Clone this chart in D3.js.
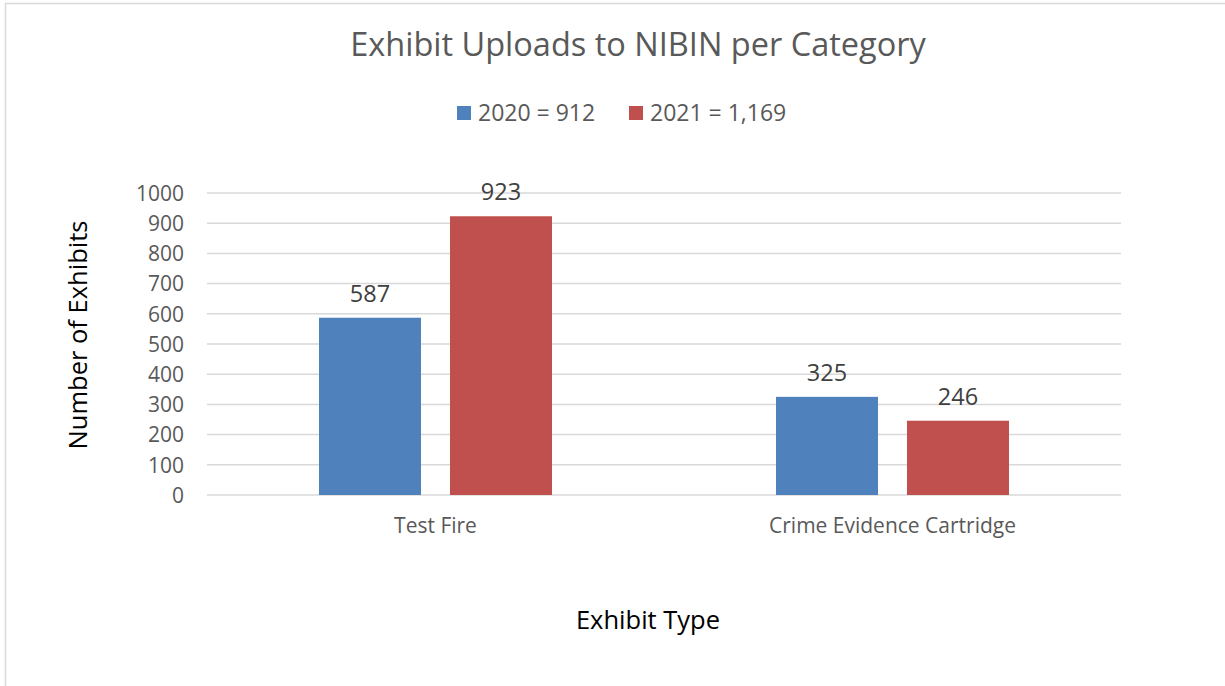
<!DOCTYPE html>
<html><head><meta charset="utf-8">
<script src="https://cdn.jsdelivr.net/npm/d3@7"></script>
<style>body{margin:0;background:#fff;}svg{display:block;font-family:"Open Sans",sans-serif;}</style>
</head><body>
<svg id="c" width="1225" height="686"></svg>
<script>
const categories = ["Test Fire", "Crime Evidence Cartridge"];
const seriesNames = ["2020 = 912", "2021 = 1,169"];
const values2020 = [587, 325];
const values2021 = [923, 246];
const yTicks = [0,100,200,300,400,500,600,700,800,900,1000];
const colors = ["#4f81bd", "#c0504d"];

const svg = d3.select("#c");
svg.append("rect").attr("x",5.5).attr("y",3.5).attr("width",1240).attr("height",700)
  .attr("fill","#fff").attr("stroke","#d9d9d9").attr("stroke-width",1.5);

const plot = {left:207, right:1121, top:193, bottom:495};
const x0 = d3.scaleBand().domain(categories).range([plot.left, plot.right]).paddingInner(0).paddingOuter(0);
const y = d3.scaleLinear().domain([0,1000]).range([plot.bottom, plot.top]);

svg.append("g").selectAll("line").data(yTicks).join("line")
  .attr("x1",plot.left).attr("x2",plot.right)
  .attr("y1",d=>y(d)).attr("y2",d=>y(d))
  .attr("stroke","#d9d9d9").attr("stroke-width",1.5);

const yAxis = d3.axisLeft(y).tickValues(yTicks).tickFormat(d3.format("d")).tickSize(0).tickPadding(0);
const ga = svg.append("g").attr("transform",`translate(${plot.left-23},0)`).call(yAxis);
ga.select(".domain").remove();
ga.selectAll("text").attr("font-size",21).attr("fill","#595959").attr("font-family","Open Sans, sans-serif").attr("dy","0.35em");

const barW = 102, gap = 29;
const data = categories.map((c,i)=>({cat:c, vals:[values2020[i], values2021[i]]}));
const x1 = d3.scaleBand().domain([0,1]).range([0, barW*2+gap]).paddingInner(gap/(barW+gap)).paddingOuter(0);
const groups = svg.append("g").selectAll("g").data(data).join("g")
  .attr("transform",d=>`translate(${x0(d.cat)+x0.bandwidth()/2-(barW*2+gap)/2},0)`);
groups.selectAll("rect").data(d=>d.vals.map((v,k)=>({v,k}))).join("rect")
  .attr("x",d=>x1(d.k)).attr("width",x1.bandwidth())
  .attr("y",d=>y(d.v)).attr("height",d=>y(0)-y(d.v))
  .attr("fill",d=>colors[d.k]);
groups.selectAll("text").data(d=>d.vals.map((v,k)=>({v,k}))).join("text")
  .attr("x",d=>x1(d.k)+x1.bandwidth()/2).attr("y",d=>y(d.v)-16)
  .attr("text-anchor","middle").attr("font-size",23.5).attr("fill","#404040")
  .text(d=>d3.format("d")(d.v));

const xAxis = d3.axisBottom(x0).tickSize(0).tickPadding(0);
const gx = svg.append("g").attr("transform",`translate(0,${plot.bottom+23})`).call(xAxis);
gx.select(".domain").remove();
gx.selectAll("text").attr("font-size",21).attr("fill","#595959").attr("font-family","Open Sans, sans-serif").attr("dy","0.71em");

svg.append("text").attr("x",638).attr("y",56).attr("text-anchor","middle")
  .attr("font-size",32.5).attr("fill","#595959").text("Exhibit Uploads to NIBIN per Category");

const legX = [457, 629];
seriesNames.forEach((s,i)=>{
  svg.append("rect").attr("x",legX[i]).attr("y",106).attr("width",14).attr("height",14).attr("fill",colors[i]);
  svg.append("text").attr("x",legX[i]+21).attr("y",121).attr("font-size",23).attr("fill","#595959").text(s);
});

svg.append("text").attr("transform","translate(87,335) rotate(-90)").attr("text-anchor","middle")
  .attr("font-size",25.5).attr("fill","#000").text("Number of Exhibits");
svg.append("text").attr("x",648).attr("y",629).attr("text-anchor","middle")
  .attr("font-size",25.5).attr("fill","#000").text("Exhibit Type");
</script>
</body></html>
